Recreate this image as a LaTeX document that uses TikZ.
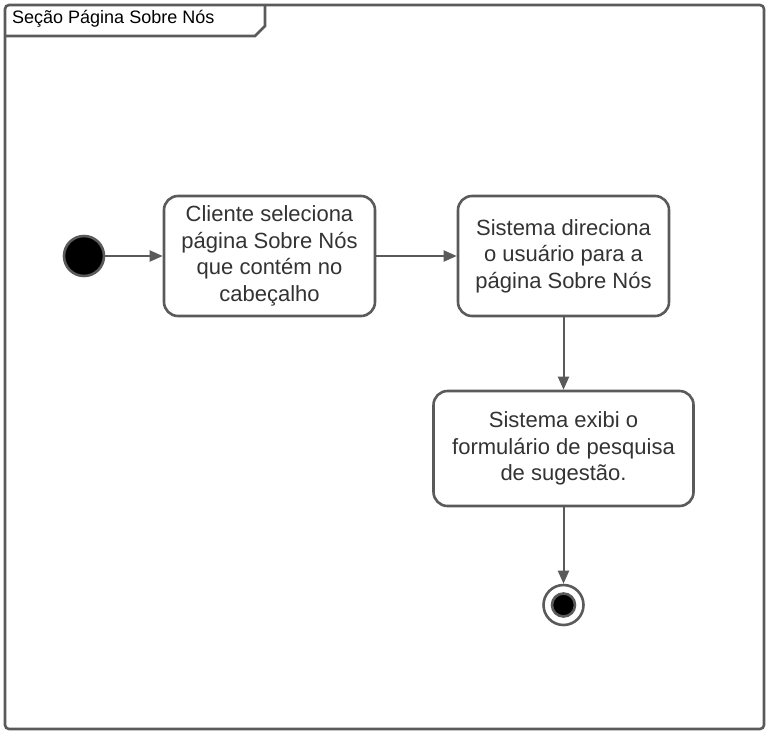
\documentclass[tikz,border=0pt]{standalone}
\usepackage{fontspec}
\setmainfont{Liberation Sans}
\usepackage{xcolor}
\usetikzlibrary{arrows.meta,positioning}
\definecolor{umlline}{HTML}{5A5A5A}
\definecolor{umltext}{HTML}{333333}
\tikzset{
  activity/.style={rounded corners=14pt, draw=umlline, line width=2.6pt, align=center, fill=white,
    minimum width=211pt, minimum height=120pt, inner sep=4pt, text=umltext,
    font=\fontsize{22}{26.5}\selectfont},
  flow/.style={-{Triangle[length=13pt,width=11pt]}, draw=umlline, line width=2pt},
  startnode/.style={circle, fill=black, draw=umlline, line width=2.6pt, minimum size=40pt, inner sep=0pt},
  endring/.style={circle, draw=umlline, line width=2.6pt, fill=white, minimum size=40pt, inner sep=0pt}
}
\begin{document}
\begin{tikzpicture}[x=1pt, y=-1pt]
  \useasboundingbox (0,0) rectangle (770,737);
  % frame and title tab
  \draw[umlline, line width=2.6pt, rounded corners=4pt] (5,5) rectangle (764,729);
  \draw[umlline, line width=2.6pt] (5,36) -- (255,36) -- (265,26) -- (265,5);
  \node[anchor=west, text=black, font=\fontsize{18}{20}\selectfont, inner sep=0pt] (title) at (12,19) {Seção Página Sobre Nós};

  \node[startnode] (start) at (84,256) {};
  \node[activity] (sel) at (269.5,256) {Cliente seleciona\\página Sobre Nós\\que contém no\\cabeçalho};
  \node[activity] (dir) at (563.5,256) {Sistema direciona\\o usuário para a\\página Sobre Nós};
  \node[activity, minimum width=260pt, minimum height=115pt] (form) at (563.5,448.5) {Sistema exibi o\\formulário de pesquisa\\de sugestão.};
  \node[endring] (stop) at (563.5,605) {};
  \node[circle, fill=black, draw=umlline, line width=2.6pt, minimum size=23pt, inner sep=0pt] (stopdot) at (stop) {};

  \draw[flow] (start) -- (sel);
  \draw[flow] (sel) -- (dir);
  \draw[flow] (dir) -- (form);
  \draw[flow] (form) -- (stop);
\end{tikzpicture}
\end{document}
